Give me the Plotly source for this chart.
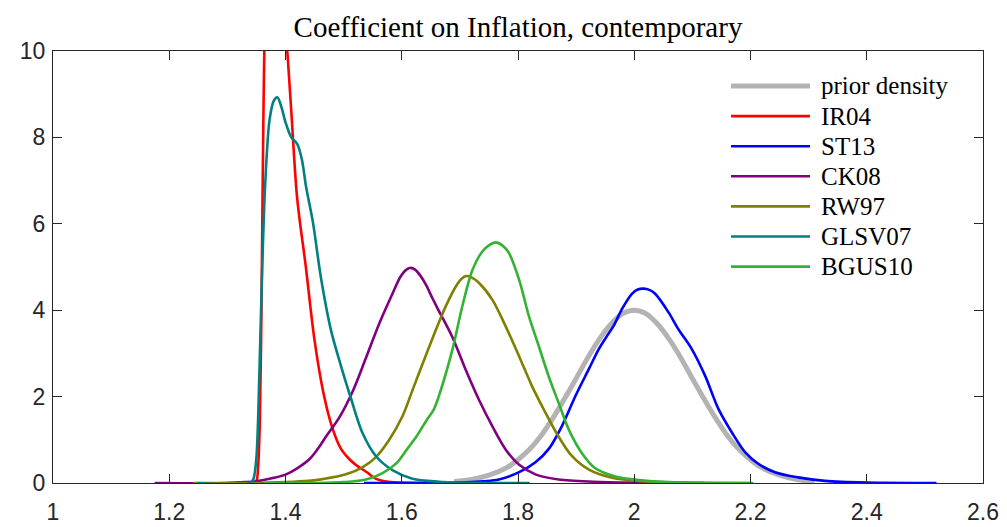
import plotly.graph_objects as go

# ---- series data: coefficient value vs. density ----
prior_x = [1.69, 1.72, 1.75, 1.78, 1.80, 1.82, 1.84, 1.86, 1.88, 1.90, 1.92, 1.94, 1.96,
           1.98, 2.00, 2.02, 2.04, 2.06, 2.08, 2.10, 2.12, 2.14, 2.16, 2.18, 2.20, 2.22,
           2.25, 2.28, 2.31]
prior_y = [0.03, 0.08, 0.18, 0.35, 0.54, 0.78, 1.10, 1.50, 1.95, 2.42, 2.90, 3.33, 3.68,
           3.92, 4.00, 3.92, 3.68, 3.33, 2.90, 2.42, 1.95, 1.50, 1.10, 0.78, 0.54, 0.35,
           0.18, 0.08, 0.03]

ir04_x = [1.30, 1.345, 1.35, 1.353, 1.356, 1.359, 1.362, 1.366, 1.372, 1.38, 1.39, 1.40,
          1.41, 1.42, 1.435, 1.45, 1.465, 1.48, 1.495, 1.51, 1.525, 1.54, 1.555, 1.57,
          1.60, 1.65]
ir04_y = [0.0, 0.0, 0.05, 0.4, 1.5, 4.5, 8.5, 11.5, 13.0, 13.2, 12.3, 10.6,
          8.6, 6.6, 5.0, 3.3, 2.1, 1.3, 0.8, 0.55, 0.38, 0.25, 0.10, 0.04,
          0.01, 0.0]

st13_x = [1.535, 1.70, 1.74, 1.767, 1.802, 1.83, 1.853, 1.876, 1.899, 1.922, 1.939, 1.952,
          1.965, 1.979, 1.996, 2.006, 2.016, 2.026, 2.036, 2.059, 2.076, 2.099, 2.122, 2.145,
          2.168, 2.191, 2.214, 2.242, 2.282, 2.328, 2.40, 2.52]
st13_y = [0.0, 0.01, 0.04, 0.08, 0.25, 0.48, 0.79, 1.33, 2.02, 2.64, 3.10, 3.38,
          3.65, 4.03, 4.38, 4.48, 4.50, 4.47, 4.38, 3.95, 3.56, 3.10, 2.48, 1.71,
          1.17, 0.71, 0.44, 0.25, 0.13, 0.05, 0.01, 0.0]

ck08_x = [1.175, 1.30, 1.33, 1.355, 1.38, 1.401, 1.42, 1.441, 1.455, 1.47, 1.4927, 1.5155,
          1.538, 1.561, 1.584, 1.598, 1.608, 1.6158, 1.623, 1.632, 1.642, 1.653, 1.664, 1.687,
          1.71, 1.733, 1.756, 1.779, 1.802, 1.83, 1.87, 1.93, 2.00, 2.12]
ck08_y = [0.0, 0.0, 0.02, 0.05, 0.12, 0.20, 0.34, 0.55, 0.78, 1.08, 1.52, 2.12,
          2.88, 3.68, 4.38, 4.78, 4.94, 4.98, 4.94, 4.80, 4.58, 4.27, 3.98, 3.38,
          2.62, 1.92, 1.31, 0.77, 0.42, 0.20, 0.08, 0.03, 0.01, 0.0]

rw97_x = [1.241, 1.35, 1.40, 1.44, 1.464, 1.504, 1.533, 1.5557, 1.5785, 1.6014, 1.6185,
          1.6414, 1.664, 1.676, 1.693, 1.703, 1.7113, 1.72, 1.733, 1.756, 1.779, 1.802,
          1.8245, 1.8476, 1.87, 1.893, 1.922, 1.962, 2.013, 2.08, 2.20]
rw97_y = [0.0, 0.0, 0.02, 0.05, 0.09, 0.20, 0.37, 0.60, 1.00, 1.55, 2.15,
          2.95, 3.72, 4.10, 4.55, 4.73, 4.79, 4.76, 4.63, 4.24, 3.62, 2.93,
          2.23, 1.62, 1.07, 0.62, 0.31, 0.12, 0.04, 0.01, 0.0]

glsv07_x = [1.249, 1.34, 1.345, 1.35, 1.355, 1.36, 1.365, 1.3725, 1.38, 1.386, 1.393, 1.40,
            1.41, 1.42, 1.428, 1.4355, 1.447, 1.461, 1.478, 1.4956, 1.5128, 1.5327, 1.5557,
            1.584, 1.6185, 1.664, 1.70, 1.82]
glsv07_y = [0.0, 0.0, 0.1, 0.6, 2.5, 5.0, 6.9, 8.4, 8.85, 8.93, 8.7, 8.35,
            8.0, 7.85, 7.5, 6.85, 6.05, 4.75, 3.55, 2.70, 1.95, 1.15, 0.62,
            0.30, 0.10, 0.03, 0.01, 0.0]

bgus10_x = [1.364, 1.45, 1.50, 1.5385, 1.567, 1.591, 1.61, 1.625, 1.643, 1.655, 1.666, 1.687,
            1.704, 1.7216, 1.7387, 1.750, 1.7616, 1.773, 1.7845, 1.802, 1.819, 1.836, 1.853,
            1.87, 1.8876, 1.91, 1.933, 1.9677, 2.013, 2.08, 2.205]
bgus10_y = [0.0, 0.0, 0.02, 0.08, 0.23, 0.46, 0.80, 1.07, 1.46, 1.70, 2.10, 3.08,
            4.08, 4.93, 5.36, 5.50, 5.57, 5.50, 5.32, 4.70, 3.85, 3.16, 2.46,
            1.85, 1.23, 0.69, 0.34, 0.15, 0.06, 0.01, 0.0]

series_names = ["prior density", "IR04", "ST13", "CK08", "RW97", "GLSV07", "BGUS10"]
series_x = [prior_x, ir04_x, st13_x, ck08_x, rw97_x, glsv07_x, bgus10_x]
series_y = [prior_y, ir04_y, st13_y, ck08_y, rw97_y, glsv07_y, bgus10_y]
series_colors = ["#b3b3b3", "#ff0000", "#0000ff", "#800080", "#808000", "#008080", "#33b233"]
series_widths = [5, 2.6, 2.6, 2.6, 2.6, 2.6, 2.6]

x_ticks = [1, 1.2, 1.4, 1.6, 1.8, 2, 2.2, 2.4, 2.6]
x_ticklabels = ["1", "1.2", "1.4", "1.6", "1.8", "2", "2.2", "2.4", "2.6"]
y_ticks = [0, 2, 4, 6, 8, 10]
y_ticklabels = ["0", "2", "4", "6", "8", "10"]

title_text = "Coefficient on Inflation, contemporary"

# ---- figure geometry (pixels) ----
W, H = 1007, 527
ML, MR, MT, MB = 53, 24, 51, 44
plot_w = W - ML - MR
plot_h = H - MT - MB

axis_color = "#262626"
serif = "Liberation Serif, Times New Roman, serif"
sans = "Liberation Sans, Arial, Helvetica, sans-serif"

fig = go.Figure()
for name, xs, ys, col, lw in zip(series_names, series_x, series_y, series_colors, series_widths):
    fig.add_trace(go.Scatter(
        x=xs, y=ys, mode="lines", name=name,
        line=dict(color=col, width=lw, shape="spline", smoothing=0.9),
        showlegend=False,
    ))

# legend drawn inside the axes: line sample + label per series
leg_x0, leg_x1, leg_text_x = 731, 810, 819
leg_y0, leg_dy = 86, 30.1
for i, (name, col, lw) in enumerate(zip(series_names, series_colors, series_widths)):
    py = leg_y0 + i * leg_dy
    yp = (H - MB - py) / plot_h
    fig.add_shape(type="line", xref="paper", yref="paper",
                  x0=(leg_x0 - ML) / plot_w, x1=(leg_x1 - ML) / plot_w, y0=yp, y1=yp,
                  line=dict(color=col, width=lw))
    fig.add_annotation(xref="paper", yref="paper", x=(leg_text_x - ML) / plot_w, y=yp,
                       xanchor="left", yanchor="middle", text=name, showarrow=False,
                       font=dict(family=serif, size=25, color="#000000"))

axis_common = dict(
    showline=True, linecolor=axis_color, linewidth=1, mirror="ticks",
    ticks="inside", ticklen=9, tickwidth=1, tickcolor=axis_color,
    showgrid=False, zeroline=False, automargin=False,
    tickfont=dict(family=sans, size=23, color=axis_color),
)

fig.update_layout(
    width=W, height=H,
    margin=dict(l=ML, r=MR, t=MT, b=MB, pad=0, autoexpand=False),
    paper_bgcolor="white", plot_bgcolor="white",
    title=dict(text=title_text, x=0.5, xref="paper", xanchor="center",
               y=1 - 27 / H, yref="container", yanchor="middle", automargin=False,
               font=dict(family=serif, size=29, color="#000000")),
    xaxis=dict(range=[1, 2.6], tickvals=x_ticks, ticktext=x_ticklabels,
               ticklabelstandoff=8, **axis_common),
    yaxis=dict(range=[0, 10], tickvals=y_ticks, ticktext=y_ticklabels,
               ticklabelstandoff=2, **axis_common),
)

fig.write_html("out.html")
